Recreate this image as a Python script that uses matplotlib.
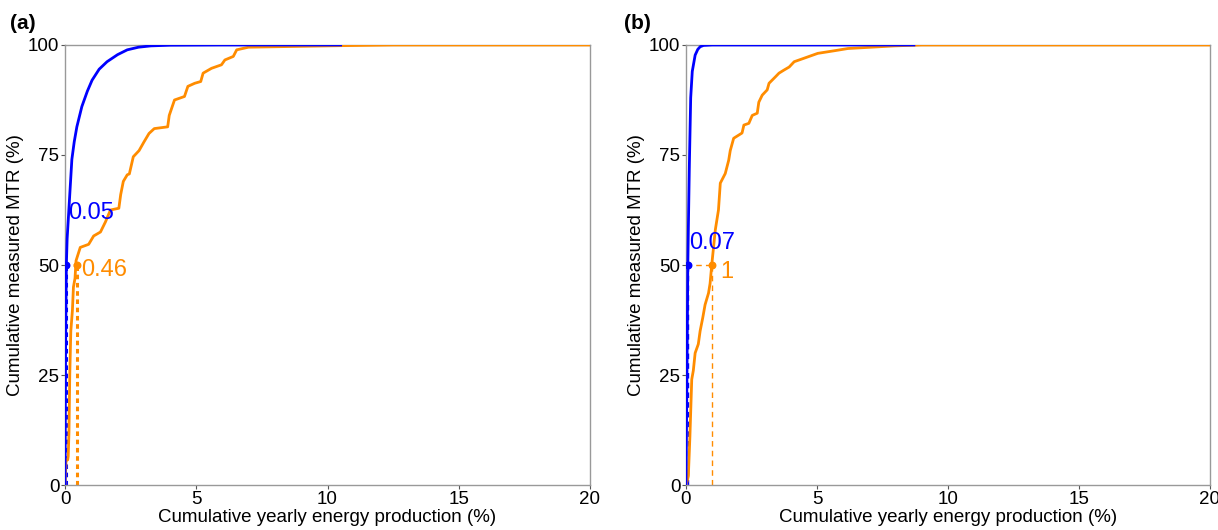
import numpy as np
import matplotlib
matplotlib.use('Agg')
import matplotlib.pyplot as plt

plt.rcParams['font.family'] = ['Liberation Sans', 'DejaVu Sans']

# %% Data
# panel (a)
a_blue_x = [0, 0.02, 0.05, 0.08, 0.13, 0.2, 0.26, 0.35, 0.45, 0.64, 0.85, 1.03, 1.3, 1.6, 2.0, 2.37, 2.8, 3.27, 4.0, 6.0, 10.5]
a_blue_y = [0, 30, 50, 56, 61, 68, 74, 78, 81.4, 86, 89.5, 92, 94.5, 96.2, 97.8, 98.9, 99.5, 99.8, 99.95, 100, 100]
a_orng_x = [0, 0.04, 0.1, 0.12, 0.15, 0.18, 0.22, 0.28, 0.32, 0.38, 0.42, 0.58, 0.9, 1.09, 1.35, 1.54, 1.73, 2.05,
            2.12, 2.22, 2.37, 2.45, 2.6, 2.82, 3.01, 3.2, 3.4, 3.91, 3.97, 4.17, 4.55, 4.68, 4.94, 5.17, 5.26, 5.58,
            5.96, 6.09, 6.41, 6.54, 6.99, 8.0, 9.0, 10.5, 12.5, 20]
a_orng_y = [0, 5.7, 5.7, 6.5, 12, 25, 35, 39.6, 45, 47, 51, 54, 54.7, 56.6, 57.5, 59.8, 62.5, 62.9,
            66, 69, 70.5, 70.7, 74.6, 76, 78, 79.9, 81, 81.4, 84, 87.5, 88.3, 90.6, 91.3, 91.7, 93.6, 94.7,
            95.5, 96.6, 97.4, 98.9, 99.5, 99.6, 99.7, 99.85, 100, 100]
a_med = [0.05, 0.46]

# panel (b)
b_blue_x = [0, 0.03, 0.07, 0.09, 0.13, 0.18, 0.24, 0.35, 0.45, 0.54, 0.67, 1.0, 8.7]
b_blue_y = [0, 20, 50, 58, 73, 88, 94, 97.7, 99, 99.6, 99.9, 100, 100]
b_orng_x = [0, 0.05, 0.09, 0.15, 0.22, 0.28, 0.35, 0.47, 0.54, 0.64, 0.73, 0.86, 0.92, 0.99, 1.12, 1.24, 1.31,
            1.5, 1.63, 1.69, 1.82, 2.14, 2.21, 2.4, 2.53, 2.72, 2.78, 2.91, 3.1, 3.17, 3.42, 3.55, 3.74, 3.94,
            4.13, 4.51, 5.03, 5.67, 6.18, 7.97, 9.0, 20]
b_orng_y = [0, 1, 2, 11, 24, 26, 30, 32, 35, 38, 41, 43.6, 45.8, 50.4, 58, 62.5, 68.6,
            70.8, 73.8, 76, 78.8, 80, 81.8, 82.2, 84, 84.5, 87, 88.6, 89.8, 91.3, 92.8, 93.6, 94.3, 95,
            96.2, 97, 98.1, 98.7, 99.2, 99.8, 100, 100]
b_med = [0.07, 1]

x_ticks = [0, 5, 10, 15, 20]
y_ticks = [0, 25, 50, 75, 100]
blue = '#0000FF'
orange = '#FF8C00'

# %% Plot
fig = plt.figure(figsize=(12.18, 5.3), dpi=100)
ax_a = fig.add_axes([0.0534, 0.0849, 0.431, 0.8302])
ax_b = fig.add_axes([0.5632, 0.0849, 0.4302, 0.8302])


def draw_panel(ax, bx, by, ox, oy, med, dash_lw, dash_style, txt_pos):
    ax.plot(ox, oy, color=orange, lw=2.0, zorder=3)
    ax.plot(bx, by, color=blue, lw=2.0, zorder=4)
    # median markers
    ax.plot([med[0], med[0]], [0, 50], color=blue, lw=dash_lw, ls=dash_style, zorder=2)
    ax.plot([0, med[0]], [50, 50], color=blue, lw=dash_lw, ls=dash_style, zorder=2)
    ax.plot([med[1], med[1]], [0, 50], color=orange, lw=dash_lw, ls=dash_style, zorder=2)
    ax.plot([0, med[1]], [50, 50], color=orange, lw=dash_lw, ls=dash_style, zorder=2)
    ax.scatter([med[0]], [50], color=blue, s=22, zorder=5)
    ax.scatter([med[1]], [50], color=orange, s=22, zorder=5)
    ax.text(txt_pos[0][0], txt_pos[0][1], f'{med[0]:g}', color=blue, fontsize=17, va='center', ha='left')
    ax.text(txt_pos[1][0], txt_pos[1][1], f'{med[1]:g}', color=orange, fontsize=17, va='center', ha='left')

    ax.set_xlim(0, 20)
    ax.set_ylim(0, 100)
    ax.set_xticks(x_ticks)
    ax.set_yticks(y_ticks)
    ax.tick_params(labelsize=13.5, color='#555555', length=3, pad=1)
    for s in ax.spines.values():
        s.set_color('#999999')
        s.set_linewidth(1.0)
    ax.set_xlabel('Cumulative yearly energy production (%)', fontsize=13.5, labelpad=1)
    ax.set_ylabel('Cumulative measured MTR (%)', fontsize=13.5, labelpad=3)


draw_panel(ax_a, a_blue_x, a_blue_y, a_orng_x, a_orng_y, a_med, 2.2, (0, (1.5, 1.2)),
           [(0.1, 61.8), (0.6, 48.9)])
draw_panel(ax_b, b_blue_x, b_blue_y, b_orng_x, b_orng_y, b_med, 1.0, (0, (4, 3)),
           [(0.12, 55), (1.3, 48.5)])

fig.text(0.008, 0.955, '(a)', fontsize=15, fontweight='bold', va='center')
fig.text(0.512, 0.955, '(b)', fontsize=15, fontweight='bold', va='center')

plt.savefig('out.png', dpi=100)
